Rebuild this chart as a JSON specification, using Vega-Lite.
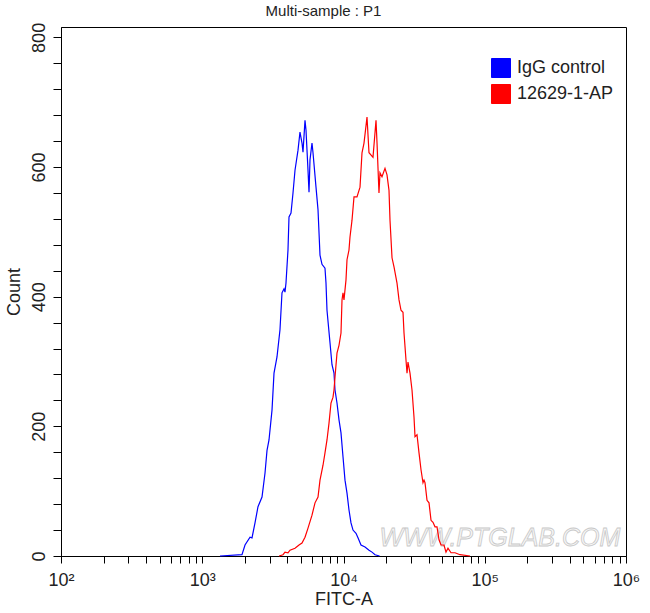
{
  "$schema": "https://vega.github.io/schema/vega-lite/v6.json",
  "width": 565,
  "height": 529,
  "autosize": {"type": "none"},
  "padding": {"left": 61, "top": 27, "right": 24, "bottom": 57},
  "background": "white",
  "config": {
    "view": {"stroke": "black", "strokeWidth": 1},
    "font": "Liberation Sans"
  },
  "title": {
    "text": "Multi-sample : P1",
    "fontSize": 15,
    "fontWeight": "normal",
    "color": "#222",
    "offset": 0,
    "dy": -3,
    "dx": -20
  },
  "datasets": {
    "hist": [
      {"series": "IgG control", "fitc": 1336, "count": 0},
      {"series": "IgG control", "fitc": 1911, "count": 2},
      {"series": "IgG control", "fitc": 2008, "count": 17},
      {"series": "IgG control", "fitc": 2179, "count": 29},
      {"series": "IgG control", "fitc": 2250, "count": 28},
      {"series": "IgG control", "fitc": 2363, "count": 51},
      {"series": "IgG control", "fitc": 2481, "count": 76},
      {"series": "IgG control", "fitc": 2649, "count": 91},
      {"series": "IgG control", "fitc": 2782, "count": 128},
      {"series": "IgG control", "fitc": 2874, "count": 163},
      {"series": "IgG control", "fitc": 2969, "count": 179},
      {"series": "IgG control", "fitc": 3118, "count": 225},
      {"series": "IgG control", "fitc": 3221, "count": 282},
      {"series": "IgG control", "fitc": 3382, "count": 307},
      {"series": "IgG control", "fitc": 3551, "count": 349},
      {"series": "IgG control", "fitc": 3669, "count": 406},
      {"series": "IgG control", "fitc": 3791, "count": 412},
      {"series": "IgG control", "fitc": 3853, "count": 407},
      {"series": "IgG control", "fitc": 3916, "count": 421},
      {"series": "IgG control", "fitc": 4046, "count": 472},
      {"series": "IgG control", "fitc": 4113, "count": 523},
      {"series": "IgG control", "fitc": 4249, "count": 529},
      {"series": "IgG control", "fitc": 4390, "count": 560},
      {"series": "IgG control", "fitc": 4536, "count": 595},
      {"series": "IgG control", "fitc": 4764, "count": 626},
      {"series": "IgG control", "fitc": 4920, "count": 654},
      {"series": "IgG control", "fitc": 5083, "count": 637},
      {"series": "IgG control", "fitc": 5167, "count": 623},
      {"series": "IgG control", "fitc": 5339, "count": 672},
      {"series": "IgG control", "fitc": 5426, "count": 657},
      {"series": "IgG control", "fitc": 5607, "count": 595},
      {"series": "IgG control", "fitc": 5700, "count": 561},
      {"series": "IgG control", "fitc": 5792, "count": 611},
      {"series": "IgG control", "fitc": 5984, "count": 637},
      {"series": "IgG control", "fitc": 6083, "count": 622},
      {"series": "IgG control", "fitc": 6387, "count": 569},
      {"series": "IgG control", "fitc": 6600, "count": 534},
      {"series": "IgG control", "fitc": 6817, "count": 464},
      {"series": "IgG control", "fitc": 7043, "count": 450},
      {"series": "IgG control", "fitc": 7395, "count": 444},
      {"series": "IgG control", "fitc": 7517, "count": 421},
      {"series": "IgG control", "fitc": 7641, "count": 379},
      {"series": "IgG control", "fitc": 8025, "count": 329},
      {"series": "IgG control", "fitc": 8290, "count": 295},
      {"series": "IgG control", "fitc": 8565, "count": 282},
      {"series": "IgG control", "fitc": 8707, "count": 256},
      {"series": "IgG control", "fitc": 8994, "count": 236},
      {"series": "IgG control", "fitc": 9292, "count": 210},
      {"series": "IgG control", "fitc": 9600, "count": 190},
      {"series": "IgG control", "fitc": 9919, "count": 153},
      {"series": "IgG control", "fitc": 10247, "count": 117},
      {"series": "IgG control", "fitc": 10588, "count": 97},
      {"series": "IgG control", "fitc": 10937, "count": 71},
      {"series": "IgG control", "fitc": 11300, "count": 51},
      {"series": "IgG control", "fitc": 11675, "count": 40},
      {"series": "IgG control", "fitc": 12260, "count": 35},
      {"series": "IgG control", "fitc": 12665, "count": 28},
      {"series": "IgG control", "fitc": 13300, "count": 17},
      {"series": "IgG control", "fitc": 14200, "count": 14},
      {"series": "IgG control", "fitc": 15155, "count": 9},
      {"series": "IgG control", "fitc": 15915, "count": 6},
      {"series": "IgG control", "fitc": 16715, "count": 2},
      {"series": "IgG control", "fitc": 18000, "count": 0},
      {"series": "12629-1-AP", "fitc": 3500, "count": 0},
      {"series": "12629-1-AP", "fitc": 3730, "count": 2},
      {"series": "12629-1-AP", "fitc": 3853, "count": 6},
      {"series": "12629-1-AP", "fitc": 4046, "count": 5},
      {"series": "12629-1-AP", "fitc": 4180, "count": 9},
      {"series": "12629-1-AP", "fitc": 4536, "count": 12},
      {"series": "12629-1-AP", "fitc": 4842, "count": 17},
      {"series": "12629-1-AP", "fitc": 5083, "count": 20},
      {"series": "12629-1-AP", "fitc": 5339, "count": 29},
      {"series": "12629-1-AP", "fitc": 5607, "count": 43},
      {"series": "12629-1-AP", "fitc": 5984, "count": 63},
      {"series": "12629-1-AP", "fitc": 6284, "count": 82},
      {"series": "12629-1-AP", "fitc": 6600, "count": 91},
      {"series": "12629-1-AP", "fitc": 6817, "count": 117},
      {"series": "12629-1-AP", "fitc": 7160, "count": 140},
      {"series": "12629-1-AP", "fitc": 7395, "count": 159},
      {"series": "12629-1-AP", "fitc": 7641, "count": 179},
      {"series": "12629-1-AP", "fitc": 7896, "count": 205},
      {"series": "12629-1-AP", "fitc": 8156, "count": 236},
      {"series": "12629-1-AP", "fitc": 8428, "count": 245},
      {"series": "12629-1-AP", "fitc": 8565, "count": 256},
      {"series": "12629-1-AP", "fitc": 8707, "count": 276},
      {"series": "12629-1-AP", "fitc": 8994, "count": 313},
      {"series": "12629-1-AP", "fitc": 9292, "count": 325},
      {"series": "12629-1-AP", "fitc": 9600, "count": 344},
      {"series": "12629-1-AP", "fitc": 9759, "count": 395},
      {"series": "12629-1-AP", "fitc": 9919, "count": 406},
      {"series": "12629-1-AP", "fitc": 10081, "count": 395},
      {"series": "12629-1-AP", "fitc": 10416, "count": 426},
      {"series": "12629-1-AP", "fitc": 10588, "count": 457},
      {"series": "12629-1-AP", "fitc": 10937, "count": 472},
      {"series": "12629-1-AP", "fitc": 11117, "count": 492},
      {"series": "12629-1-AP", "fitc": 11488, "count": 518},
      {"series": "12629-1-AP", "fitc": 11867, "count": 554},
      {"series": "12629-1-AP", "fitc": 12462, "count": 554},
      {"series": "12629-1-AP", "fitc": 13088, "count": 569},
      {"series": "12629-1-AP", "fitc": 13521, "count": 622},
      {"series": "12629-1-AP", "fitc": 13969, "count": 637},
      {"series": "12629-1-AP", "fitc": 14670, "count": 677},
      {"series": "12629-1-AP", "fitc": 15155, "count": 622},
      {"series": "12629-1-AP", "fitc": 16174, "count": 615},
      {"series": "12629-1-AP", "fitc": 16990, "count": 672},
      {"series": "12629-1-AP", "fitc": 17272, "count": 637},
      {"series": "12629-1-AP", "fitc": 17834, "count": 560},
      {"series": "12629-1-AP", "fitc": 18128, "count": 591},
      {"series": "12629-1-AP", "fitc": 18730, "count": 585},
      {"series": "12629-1-AP", "fitc": 19670, "count": 598},
      {"series": "12629-1-AP", "fitc": 20324, "count": 588},
      {"series": "12629-1-AP", "fitc": 20995, "count": 564},
      {"series": "12629-1-AP", "fitc": 21342, "count": 518},
      {"series": "12629-1-AP", "fitc": 22053, "count": 460},
      {"series": "12629-1-AP", "fitc": 22780, "count": 446},
      {"series": "12629-1-AP", "fitc": 23924, "count": 421},
      {"series": "12629-1-AP", "fitc": 24717, "count": 395},
      {"series": "12629-1-AP", "fitc": 25537, "count": 379},
      {"series": "12629-1-AP", "fitc": 26380, "count": 376},
      {"series": "12629-1-AP", "fitc": 26816, "count": 344},
      {"series": "12629-1-AP", "fitc": 27706, "count": 302},
      {"series": "12629-1-AP", "fitc": 28163, "count": 282},
      {"series": "12629-1-AP", "fitc": 28615, "count": 299},
      {"series": "12629-1-AP", "fitc": 29566, "count": 282},
      {"series": "12629-1-AP", "fitc": 30549, "count": 256},
      {"series": "12629-1-AP", "fitc": 31564, "count": 214},
      {"series": "12629-1-AP", "fitc": 32085, "count": 184},
      {"series": "12629-1-AP", "fitc": 33150, "count": 187},
      {"series": "12629-1-AP", "fitc": 34246, "count": 159},
      {"series": "12629-1-AP", "fitc": 35380, "count": 133},
      {"series": "12629-1-AP", "fitc": 36550, "count": 113},
      {"series": "12629-1-AP", "fitc": 37154, "count": 117},
      {"series": "12629-1-AP", "fitc": 37765, "count": 113},
      {"series": "12629-1-AP", "fitc": 39020, "count": 86},
      {"series": "12629-1-AP", "fitc": 40310, "count": 82},
      {"series": "12629-1-AP", "fitc": 41650, "count": 55},
      {"series": "12629-1-AP", "fitc": 43020, "count": 52},
      {"series": "12629-1-AP", "fitc": 44450, "count": 45},
      {"series": "12629-1-AP", "fitc": 45920, "count": 45},
      {"series": "12629-1-AP", "fitc": 47450, "count": 25},
      {"series": "12629-1-AP", "fitc": 49020, "count": 17},
      {"series": "12629-1-AP", "fitc": 51450, "count": 17},
      {"series": "12629-1-AP", "fitc": 53160, "count": 6},
      {"series": "12629-1-AP", "fitc": 54930, "count": 12},
      {"series": "12629-1-AP", "fitc": 57700, "count": 5},
      {"series": "12629-1-AP", "fitc": 61570, "count": 5},
      {"series": "12629-1-AP", "fitc": 66790, "count": 2},
      {"series": "12629-1-AP", "fitc": 78650, "count": 0}
    ],
    "watermark": [{"label": "WWW.PTGLAB.COM"}]
  },
  "resolve": {"axis": {"y": "independent"}},
  "layer": [
    {
      "data": {"name": "watermark"},
      "mark": {
        "type": "text",
        "font": "Liberation Sans",
        "fontSize": 25,
        "fontStyle": "italic",
        "fill": "#f7f7f7",
        "stroke": "#c8c8c8",
        "strokeWidth": 0.8,
        "align": "center",
        "baseline": "middle"
      },
      "encoding": {
        "x": {"datum": 128000, "type": "quantitative", "scale": {"type": "log", "domain": [100, 1000000]}},
        "y": {
          "datum": 28,
          "type": "quantitative",
          "axis": {
            "orient": "left",
            "offset": 0,
            "title": null,
            "labels": false,
            "domain": false,
            "grid": false,
            "values": [40, 80, 120, 160, 240, 280, 320, 360, 440, 480, 520, 560, 640, 680, 720, 760],
            "tickSize": 8,
            "tickColor": "black"
          }
        },
        "text": {"field": "label"}
      }
    },
    {
      "data": {"name": "hist"},
      "mark": {"type": "line", "strokeWidth": 1.2, "interpolate": "linear"},
      "encoding": {
        "x": {
          "field": "fitc",
          "type": "quantitative",
          "scale": {"type": "log", "domain": [100, 1000000], "nice": false},
          "axis": {
            "title": "FITC-A",
            "titleFontSize": 18,
            "titleFontWeight": "normal",
            "titleColor": "#222",
            "titlePadding": 1,
            "values": [100, 200, 300, 400, 500, 600, 700, 800, 900, 1000, 2000, 3000, 4000, 5000, 6000, 7000, 8000, 9000, 10000, 20000, 30000, 40000, 50000, 60000, 70000, 80000, 90000, 100000, 200000, 300000, 400000, 500000, 600000, 700000, 800000, 900000, 1000000],
            "labelExpr": "datum.value == 100 ? '10²' : datum.value == 1000 ? '10³' : datum.value == 10000 ? '10⁴' : datum.value == 100000 ? '10⁵' : datum.value == 1000000 ? '10⁶' : ''",
            "labelFontSize": 18,
            "labelColor": "#222",
            "labelPadding": 8,
            "labelOverlap": "greedy",
            "labelFlush": false,
            "tickSize": 7,
            "tickColor": "black",
            "domainColor": "black",
            "grid": false
          }
        },
        "y": {
          "field": "count",
          "type": "quantitative",
          "scale": {"domain": [0, 816], "nice": false, "zero": true},
          "axis": {
            "orient": "left",
            "offset": 0,
            "title": "Count",
            "titleFontSize": 18,
            "titleFontWeight": "normal",
            "titleColor": "#222",
            "titlePadding": 7,
            "values": [0, 200, 400, 600, 800],
            "labelAngle": -90,
            "labelFontSize": 18,
            "labelColor": "#222",
            "labelPadding": 5,
            "labelOverlap": false,
            "labelFlush": false,
            "tickSize": 8,
            "tickColor": "black",
            "domainColor": "black",
            "grid": false
          }
        },
        "color": {
          "field": "series",
          "type": "nominal",
          "scale": {"domain": ["IgG control", "12629-1-AP"], "range": ["#0000ff", "#ff0000"]},
          "legend": {
            "title": null,
            "orient": "none",
            "legendX": 430,
            "legendY": 31,
            "padding": 0,
            "symbolType": "square",
            "symbolSize": 361,
            "symbolStrokeColor": "black",
            "symbolStrokeWidth": 1,
            "labelFontSize": 18,
            "labelColor": "#222",
            "labelOffset": 6,
            "rowPadding": 2,
            "encode": {
              "symbols": {
                "update": {
                  "fill": {"scale": "color", "field": "value"},
                  "fillOpacity": {"value": 1},
                  "stroke": {"value": "black"},
                  "strokeWidth": {"value": 1}
                }
              }
            }
          }
        }
      }
    }
  ]
}
